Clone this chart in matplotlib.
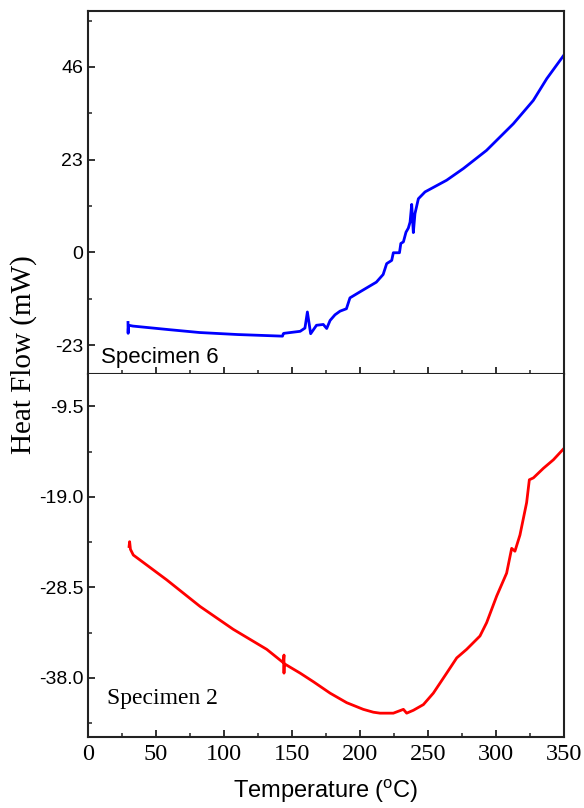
import numpy as np
import matplotlib
matplotlib.use('Agg')
import matplotlib.pyplot as plt
from matplotlib.ticker import MultipleLocator, FixedLocator

# DSC traces, temperature (C) vs heat flow (mW)
temp_s6 = [29.4, 29.5, 29.6, 30.0, 33.0, 60.0, 82.0, 110.0, 143.0, 143.6, 144.0, 156.0, 159.5,
           161.3, 163.7, 168.0, 173.0, 175.5, 178.0, 181.6, 185.3, 190.0, 192.6, 200.0,
           212.0, 217.0, 219.6, 223.3, 224.5, 229.0, 230.0, 231.9, 233.8, 235.5, 236.8,
           238.0, 239.2, 240.4, 242.9, 247.8, 263.7, 276.0, 293.0, 312.7, 327.4, 337.3, 349.8]
flow_s6 = [-17.4, -20.1, -19.0, -18.1, -18.3, -19.2, -19.9, -20.4, -20.8, -20.2, -20.1, -19.6, -18.8,
           -14.8, -20.2, -18.1, -17.9, -18.9, -16.9, -15.5, -14.6, -14.0, -11.3, -9.8,
           -7.4, -5.5, -2.8, -2.0, -0.1, -0.1, 2.2, 2.6, 5.0, 6.0, 7.5,
           11.9, 4.9, 9.6, 13.3, 15.0, 17.9, 20.8, 25.3, 31.9, 37.7, 43.1, 48.9]

temp_s2 = [30.2, 30.6, 31.2, 33.3, 57.8, 82.4, 106.8, 131.4, 143.6, 144.1, 144.1, 144.2, 156.0,
           165.7, 178.0, 190.2, 202.4, 209.8, 214.7, 224.5, 231.9, 234.3, 239.2, 246.6,
           253.9, 263.7, 271.1, 278.4, 288.2, 293.1, 300.5, 307.8, 311.5, 313.9, 317.6,
           322.5, 324.5, 327.5, 334.8, 342.2, 350.0]
flow_s2 = [-24.2, -23.7, -24.5, -25.1, -27.7, -30.5, -32.9, -35.0, -36.4, -35.6, -37.5, -36.5, -37.5,
           -38.4, -39.6, -40.6, -41.3, -41.6, -41.7, -41.7, -41.3, -41.7, -41.4, -40.8,
           -39.6, -37.5, -35.9, -35.0, -33.6, -32.2, -29.4, -27.0, -24.4, -24.7, -23.0,
           -19.6, -17.2, -17.0, -16.0, -15.1, -13.9]

ticks_s6 = [-23, 0, 23, 46]
ticks_s2 = [-38.0, -28.5, -19.0, -9.5]
xticks = [0, 50, 100, 150, 200, 250, 300, 350]

sans = 'Liberation Sans'
serif = 'Liberation Serif'

fig = plt.figure(figsize=(5.84, 8.08), dpi=100)
left, width = 0.1507, 0.8151
ax1 = fig.add_axes([left, 0.5371, width, 0.4493])
ax2 = fig.add_axes([left, 0.0879, width, 0.4492])

ax1.plot(temp_s6, flow_s6, color='#0000ff', linewidth=2)
ax2.plot(temp_s2, flow_s2, color='#ff0000', linewidth=2)

ax1.set_ylim(-30.2, 59.9)
ax2.set_ylim(-44.2, -6.1)

for ax in (ax1, ax2):
    ax.set_xlim(0, 350)
    ax.xaxis.set_major_locator(FixedLocator(xticks))
    ax.xaxis.set_minor_locator(MultipleLocator(25))
    ax.tick_params(which='both', direction='in', top=False, right=False, color='#222222')
    ax.tick_params(which='major', length=5, width=1.3)
    ax.tick_params(which='minor', length=3, width=1.1)
    for sp in ax.spines.values():
        sp.set_linewidth(1.5)
        sp.set_color('#222222')

ax1.set_yticks(ticks_s6)
ax1.yaxis.set_minor_locator(MultipleLocator(11.5))
ax1.set_yticklabels([str(t) for t in ticks_s6], fontfamily=sans, fontsize=14)
ax1.tick_params(axis='x', labelbottom=False)

ax2.set_yticks(ticks_s2)
ax2.yaxis.set_minor_locator(MultipleLocator(4.75))
ax2.set_yticklabels([f'{t:.1f}' for t in ticks_s2], fontfamily=sans, fontsize=14)
ax2.set_xticklabels([str(t) for t in xticks], fontfamily=serif, fontsize=17.5)
ax2.tick_params(axis='x', pad=5)
ax2.spines['top'].set_visible(False)

ax1.text(0.027, 0.03, 'Specimen 6', transform=ax1.transAxes, fontfamily=sans, fontsize=16)
ax2.text(0.04, 0.09, 'Specimen 2', transform=ax2.transAxes, fontfamily=serif, fontsize=17)

fig.text(0.040, 0.561, 'Heat Flow (mW)', rotation=90, ha='center', va='center',
         fontfamily=serif, fontsize=21)
fig.text(0.558, 0.004, 'Temperature ($\\mathregular{^{o}}$C)', ha='center', va='bottom',
         fontfamily=sans, fontsize=17)

fig.savefig('out.png', dpi=100)
